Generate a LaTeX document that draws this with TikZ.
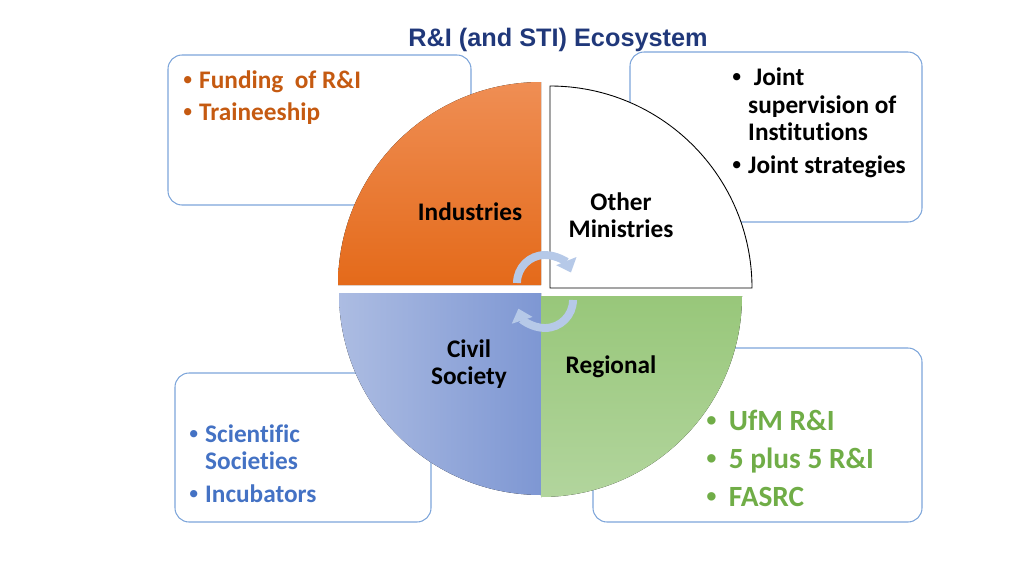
\documentclass[tikz,border=0pt]{standalone}
\usepackage{fontspec}
\setmainfont{Carlito}[Ligatures=NoCommon]
\newfontfamily\titlefont{Liberation Sans}
\usetikzlibrary{arrows.meta}
\definecolor{boxline}{RGB}{125,165,218}
\definecolor{navy}{RGB}{32,56,122}
\definecolor{orangetxt}{RGB}{197,90,17}
\definecolor{bluetxt}{RGB}{68,114,196}
\definecolor{greentxt}{RGB}{112,173,71}
\definecolor{cyc}{RGB}{182,201,232}
\newcommand{\dotitem}{{\titlefont\textbullet}}

\begin{document}
\begin{tikzpicture}[x=0.02cm,y=0.02cm,
    infobox/.style={draw=boxline,line width=0.6pt,rounded corners=8pt},
    slice/.style={font=\bfseries\fontsize{14.4}{15.6}\selectfont,align=center},
    items/.style={font=\bfseries\fontsize{14.4}{15.6}\selectfont,anchor=west,inner sep=0pt},
    turn/.style={cyc,line width=4.5pt,-{Triangle[length=7pt,width=12pt]}}]
  \useasboundingbox (0,0) rectangle (1024,576);
  \draw[infobox] (168,371) rectangle (471,521);
  \draw[infobox] (630,354) rectangle (922,524);
  \draw[infobox] (175,54) rectangle (431,203);
  \draw[infobox] (593,54) rectangle (922,228);
  \fill[top color={rgb,255:red,239;green,142;blue,84},bottom color={rgb,255:red,228;green,106;blue,26}]
    (541,291) -- ++(-203,0) arc[start angle=180,end angle=90,radius=203] -- cycle;
  \filldraw[fill=white,draw=black,line width=0.5pt]
    (550,288) -- ++(0,202) arc[start angle=90,end angle=0,radius=202] -- cycle;
  \fill[left color={rgb,255:red,172;green,188;blue,226},right color={rgb,255:red,126;green,151;blue,211}]
    (541,283) -- ++(-202,0) arc[start angle=180,end angle=270,radius=202] -- cycle;
  \fill[top color={rgb,255:red,152;green,199;blue,122},bottom color={rgb,255:red,178;green,213;blue,157}]
    (541,280) -- ++(201,0) arc[start angle=0,end angle=-90,radius=201] -- cycle;
  \coordinate (up) at (545,293);
  \coordinate (down) at (545,276);
  \draw[turn] (up) ++(-28,0) arc[start angle=180,end angle=22,radius=28];
  \draw[turn] (down) ++(28,0) arc[start angle=0,end angle=-162,radius=28];
  \node[font=\titlefont\bfseries\fontsize{14.4}{16}\selectfont,text=navy] (title) at (558,536) {R\&I (and STI) Ecosystem};
  \node[slice] (ind) at (470,364) {Industries};
  \node[slice] (min) at (621,361) {Other\\Ministries};
  \node[slice] (civ) at (469,212) {Civil\\Society};
  \node[slice] (reg) at (611,209) {Regional};
  \node[items,text=orangetxt] (fund) at (183,477) {\begin{tabular}{@{}l@{\hspace{4pt}}l@{}}
    \dotitem & Funding\ \ of R\&I\\[2.5pt]
    \dotitem & Traineeship\end{tabular}};
  \node[items] (joint) at (732,452) {\begin{tabular}{@{}l@{\hspace{4pt}}l@{}}
    \dotitem & \ Joint\\
    & supervision of\\
    & Institutions\\[3pt]
    \dotitem & Joint strategies\end{tabular}};
  \node[items,text=bluetxt] (soc) at (189,109) {\begin{tabular}{@{}l@{\hspace{4pt}}l@{}}
    \dotitem & Scientific\\
    & Societies\\[3pt]
    \dotitem & Incubators\end{tabular}};
  \node[items,text=greentxt,font=\bfseries\fontsize{16.7}{21.5}\selectfont] (uni) at (706,115) {\begin{tabular}{@{}l@{\hspace{7pt}}l@{}}
    \dotitem & UfM R\&I\\
    \dotitem & 5 plus 5 R\&I\\
    \dotitem & FASRC\end{tabular}};
\end{tikzpicture}
\end{document}
